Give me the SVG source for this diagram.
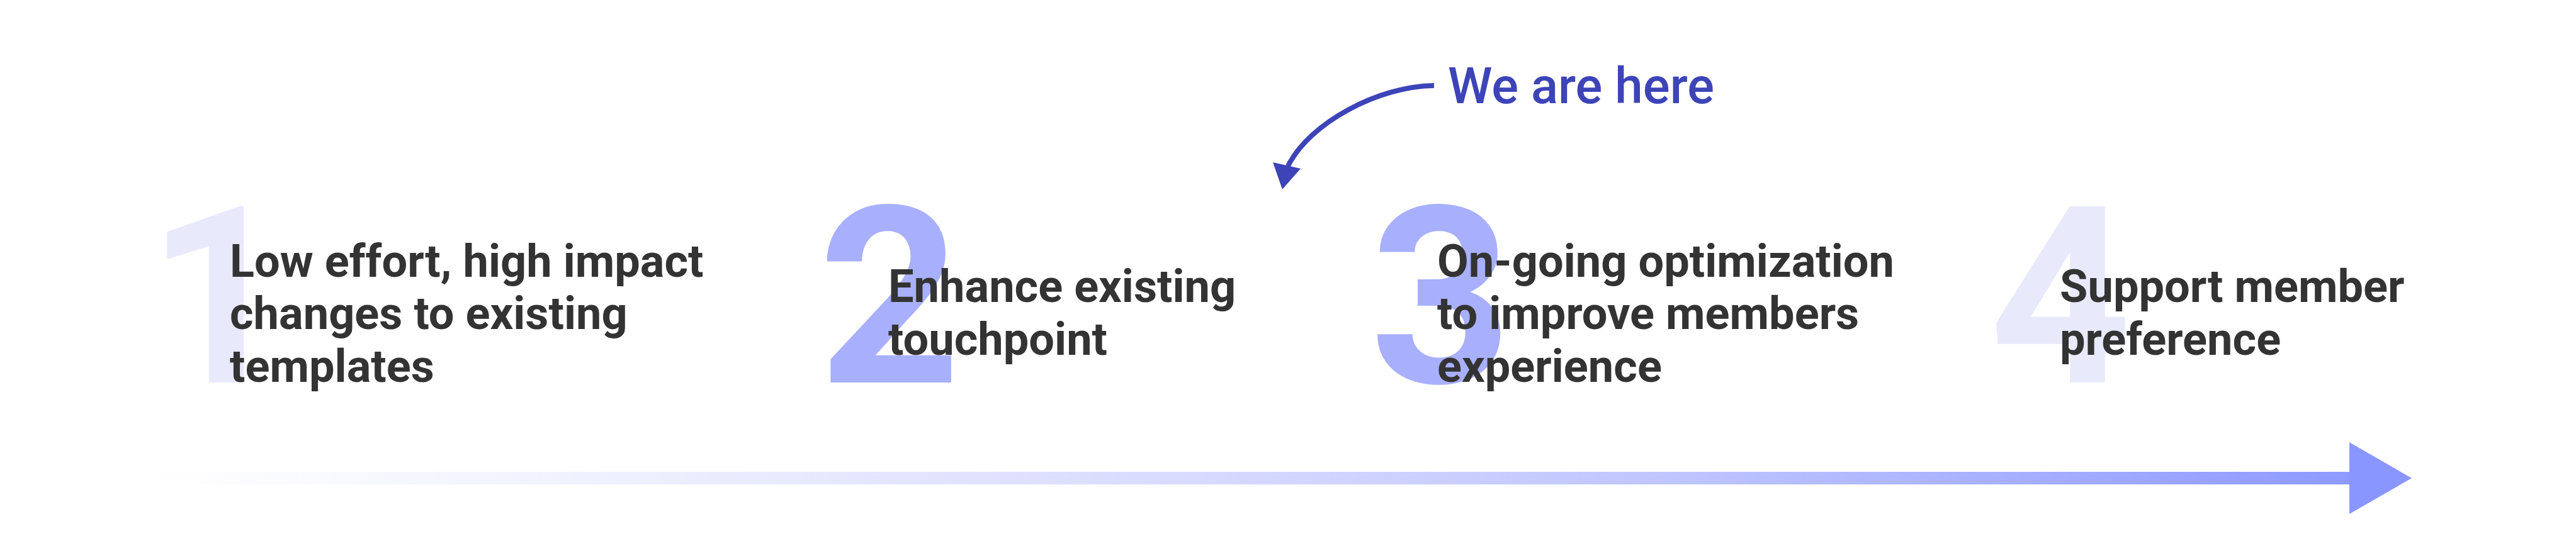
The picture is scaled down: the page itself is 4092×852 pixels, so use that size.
<svg xmlns="http://www.w3.org/2000/svg" width="4092" height="852" viewBox="0 0 4092 852">
<defs>
<style>
.digit{font-family:Roboto,"Liberation Sans",sans-serif;font-weight:700;font-size:394px}
.light{fill:#E8E9FB}
.mid{fill:#A8B0FD}
.label{font-family:Roboto,"Liberation Sans",sans-serif;font-weight:700;font-size:72.2px;fill:#333333}
.here{font-family:Roboto,"Liberation Sans",sans-serif;font-weight:500;font-size:80px;fill:#3D44B8}
</style>
<linearGradient id="shaft" gradientUnits="userSpaceOnUse" x1="250" y1="0" x2="3831" y2="0">
<stop offset="0" stop-color="#FFFFFF"/>
<stop offset="0.209" stop-color="#EEF0FE"/>
<stop offset="0.458" stop-color="#D8DAFE"/>
<stop offset="0.681" stop-color="#BEC4FE"/>
<stop offset="0.972" stop-color="#8E9AFF"/>
<stop offset="1" stop-color="#8C98FF"/>
</linearGradient>
</defs>
<rect width="4092" height="852" fill="#FFFFFF"/>
<g id="connectors">
<rect x="250" y="750" width="3490" height="20" fill="url(#shaft)"/>
<polygon points="3732,703 3831,760 3732,817" fill="#8A96FF"/>
<path d="M2278 136 C2190 137 2080 195 2046 264" fill="none" stroke="#3D44B8" stroke-width="8"/>
<polygon points="2022,258 2066,268 2037,301" fill="#3D44B8"/>
</g>
<g id="step1">
<text class="digit light" x="233" y="608">1</text>
<text class="label"><tspan x="365" y="440">Low effort, high impact</tspan><tspan x="365" y="523">changes to existing</tspan><tspan x="365" y="607">templates</tspan></text>
</g>
<g id="step2">
<text class="digit mid" x="1300" y="608">2</text>
<text class="label"><tspan x="1411" y="480">Enhance existing</tspan><tspan x="1411" y="564">touchpoint</tspan></text>
</g>
<g id="step3">
<text class="digit mid" x="2176" y="608">3</text>
<text class="label"><tspan x="2283" y="440">On-going optimization</tspan><tspan x="2283" y="523">to improve members</tspan><tspan x="2283" y="607">experience</tspan></text>
</g>
<g id="step4">
<text class="digit light" x="3160" y="608">4</text>
<text class="label"><tspan x="3272" y="480">Support member</tspan><tspan x="3272" y="564">preference</tspan></text>
</g>
<g id="here">
<text class="here" x="2300" y="164">We are here</text>
</g>
</svg>
